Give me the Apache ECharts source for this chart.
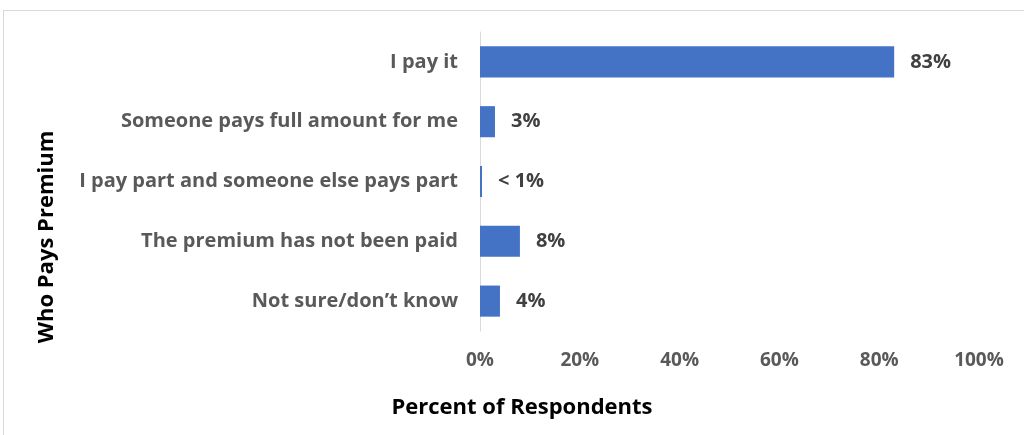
<!DOCTYPE html>
<html>
<head>
<meta charset="utf-8">
<script src="https://cdn.jsdelivr.net/npm/echarts@6/dist/echarts.min.js"></script>
<style>
  html, body { margin: 0; padding: 0; background: #fff; }
  #chart { width: 1024px; height: 435px; }
  #frame { position: absolute; left: 3px; top: 10px; width: 1030px; height: 440px; border: 1px solid #d9d9d9; box-sizing: border-box; pointer-events: none; }
</style>
</head>
<body>
<div id="chart"></div>
<div id="frame"></div>
<script>
// Who pays the premium — share of respondents
const categories = [
  'I pay it',
  'Someone pays full amount for me',
  'I pay part and someone else pays part',
  'The premium has not been paid',
  'Not sure/don\u2019t know'
];
const values = [83, 3, 0.4, 8, 4];
const valueLabels = ['83%', '3%', '< 1%', '8%', '4%'];
const xTicks = [0, 20, 40, 60, 80, 100];

const FONT = 'Open Sans';
const chart = echarts.init(document.getElementById('chart'));

chart.setOption({
  animation: false,
  grid: { left: 480, right: 45, top: 32, bottom: 104, containLabel: false },
  xAxis: {
    type: 'value',
    min: xTicks[0],
    max: xTicks[xTicks.length - 1],
    interval: 20,
    axisLine: { show: false },
    axisTick: { show: false },
    splitLine: { show: false },
    axisLabel: {
      formatter: v => v + '%',
      color: '#595959',
      fontFamily: FONT,
      fontWeight: 'bold',
      fontSize: 19,
      margin: 20
    }
  },
  yAxis: {
    type: 'category',
    data: categories,
    inverse: true,
    axisLine: { show: true, lineStyle: { color: '#d9d9d9', width: 1 } },
    axisTick: { show: false },
    axisLabel: {
      color: '#595959',
      fontFamily: FONT,
      fontWeight: 'bold',
      fontSize: 20,
      margin: 22
    }
  },
  series: [{
    type: 'bar',
    data: values,
    barWidth: '52%',
    itemStyle: { color: '#4472c4' },
    label: {
      show: true,
      position: 'right',
      distance: 16,
      formatter: p => valueLabels[p.dataIndex],
      color: '#404040',
      fontFamily: FONT,
      fontWeight: 'bold',
      fontSize: 20
    }
  }],
  graphic: [
    {
      type: 'text',
      x: 47,
      y: 237,
      rotation: Math.PI / 2,
      style: {
        text: 'Who Pays Premium',
        fill: '#000',
        font: 'bold 22px "Open Sans"',
        align: 'center',
        verticalAlign: 'middle'
      }
    },
    {
      type: 'text',
      x: 522,
      y: 408,
      style: {
        text: 'Percent of Respondents',
        fill: '#000',
        font: 'bold 22px "Open Sans"',
        align: 'center',
        verticalAlign: 'middle'
      }
    }
  ]
});
</script>
</body>
</html>
